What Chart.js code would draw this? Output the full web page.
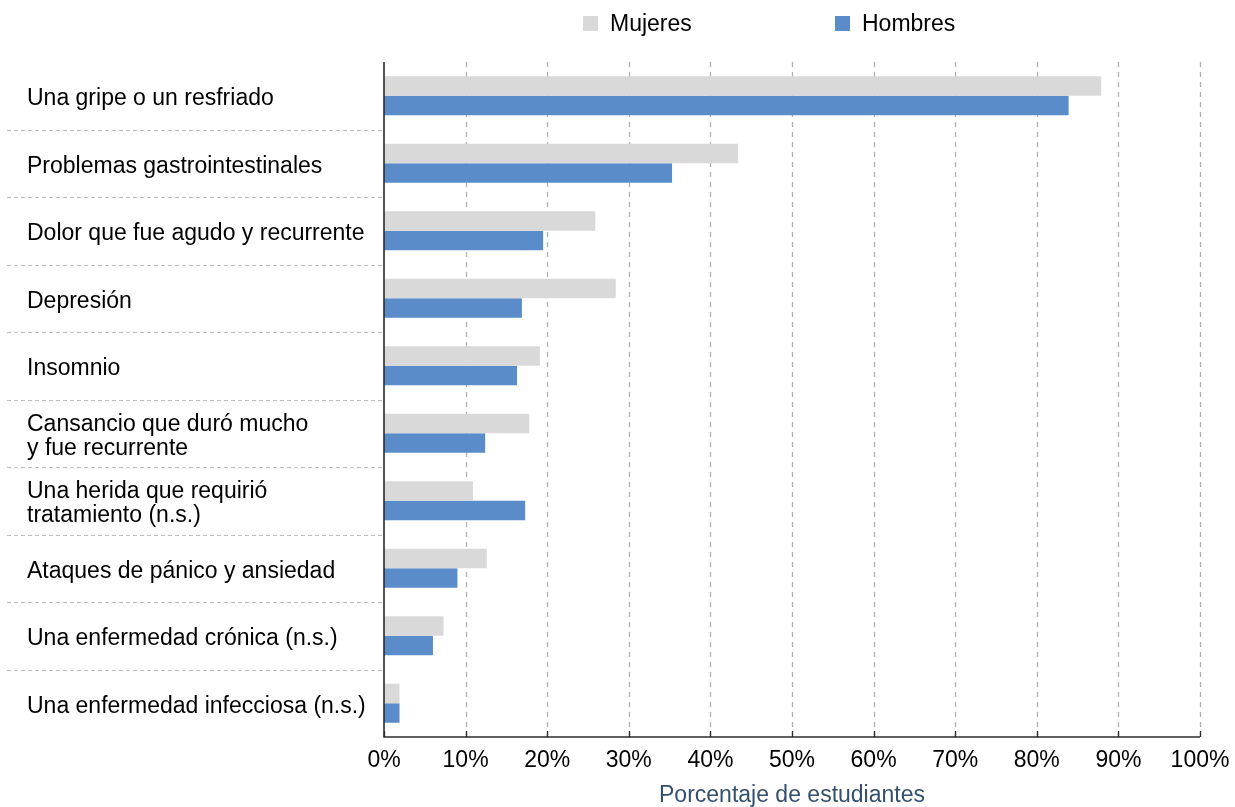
<!DOCTYPE html>
<html><head><meta charset="utf-8">
<script src="https://cdn.jsdelivr.net/npm/chart.js@4"></script>
<style>html,body{margin:0;padding:0;background:#fff}#wrap{width:1235px;height:807px;position:relative}</style>
</head><body><div id="wrap"><canvas id="c"></canvas></div>
<script>
const categories = [
  ["Una gripe o un resfriado"],
  ["Problemas gastrointestinales"],
  ["Dolor que fue agudo y recurrente"],
  ["Depresión"],
  ["Insomnio"],
  ["Cansancio que duró mucho", "y fue recurrente"],
  ["Una herida que requirió", "tratamiento (n.s.)"],
  ["Ataques de pánico y ansiedad"],
  ["Una enfermedad crónica (n.s.)"],
  ["Una enfermedad infecciosa (n.s.)"]
];
const mujeres = [87.9, 43.4, 25.9, 28.4, 19.1, 17.8, 10.9, 12.6, 7.3, 1.9];
const hombres = [83.9, 35.3, 19.5, 16.9, 16.3, 12.4, 17.3, 9.0, 6.0, 1.9];
const seriesNames = ["Mujeres", "Hombres"];
const xTicks = [0, 10, 20, 30, 40, 50, 60, 70, 80, 90, 100];
const axisTitle = "Porcentaje de estudiantes";

const FONT = "'Liberation Sans', Arial, Helvetica, sans-serif";
const FS = 23;

const decor = {
  id: 'decor',
  beforeDatasetsDraw(chart) {
    const {ctx, chartArea: a, scales: {x, y}} = chart;
    ctx.save();
    ctx.strokeStyle = '#b0b0b0';
    ctx.lineWidth = 1.3;
    ctx.setLineDash([5, 5]);
    xTicks.forEach(v => {
      if (v === 0) return;
      const px = Math.round(x.getPixelForValue(v)) + 0.5;
      ctx.beginPath(); ctx.moveTo(px, a.top); ctx.lineTo(px, a.bottom); ctx.stroke();
    });
    ctx.strokeStyle = '#bdbdbd';
    ctx.lineWidth = 1;
    ctx.setLineDash([4, 3]);
    for (let i = 0; i < categories.length - 1; i++) {
      const py = Math.round((y.getPixelForValue(i) + y.getPixelForValue(i + 1)) / 2) + 0.5;
      ctx.beginPath(); ctx.moveTo(7, py); ctx.lineTo(a.left, py); ctx.stroke();
    }
    ctx.restore();
  },
  afterDatasetsDraw(chart) {
    const {ctx, chartArea: a, scales: {x}} = chart;
    ctx.save();
    ctx.strokeStyle = '#2b2b2b';
    ctx.lineWidth = 1.6;
    ctx.setLineDash([]);
    ctx.beginPath();
    ctx.moveTo(a.left, a.top); ctx.lineTo(a.left, a.bottom); ctx.lineTo(a.right, a.bottom);
    ctx.stroke();
    ctx.lineWidth = 1.3;
    xTicks.forEach(v => {
      const px = Math.round(x.getPixelForValue(v)) + 0.5;
      ctx.beginPath(); ctx.moveTo(px, a.bottom); ctx.lineTo(px, a.bottom - 6); ctx.stroke();
    });
    const pos = [583, 835];
    ctx.font = FS + 'px ' + FONT;
    ctx.textBaseline = 'middle';
    ctx.textAlign = 'left';
    chart.data.datasets.forEach((ds, i) => {
      ctx.fillStyle = ds.backgroundColor;
      ctx.fillRect(pos[i], 16, 15, 15);
      ctx.fillStyle = '#000';
      ctx.fillText(ds.label, pos[i] + 27, 25);
    });
    ctx.restore();
  }
};

new Chart(document.getElementById('c'), {
  type: 'bar',
  data: {
    labels: categories,
    datasets: [
      {label: seriesNames[0], data: mujeres, backgroundColor: '#d9d9d9', categoryPercentage: 0.578, barPercentage: 1.0},
      {label: seriesNames[1], data: hombres, backgroundColor: '#5a8cc9', categoryPercentage: 0.578, barPercentage: 1.0}
    ]
  },
  options: {
    indexAxis: 'y',
    responsive: true,
    maintainAspectRatio: false,
    animation: false,
    layout: {padding: {left: 27, top: 62, right: 35, bottom: 0}},
    plugins: {legend: {display: false}, tooltip: {enabled: false}},
    scales: {
      x: {
        min: 0, max: 100,
        grid: {display: false, drawTicks: false},
        border: {display: false},
        ticks: {stepSize: 10, padding: 10, color: '#000', font: {family: FONT, size: FS},
          callback: v => v + '%', maxRotation: 0},
        title: {display: true, text: axisTitle, color: '#34506f', font: {family: FONT, size: FS}, padding: {top: 0, bottom: -2}},
        afterFit: s => { s.height = 70; s.paddingLeft = 0; s.paddingRight = 0; }
      },
      y: {
        grid: {display: false, drawTicks: false},
        border: {display: false},
        ticks: {crossAlign: 'far', labelOffset: 3, color: '#000', font: {family: FONT, size: FS, lineHeight: 1.05}, autoSkip: false},
        afterFit: s => { s.width = 357; }
      }
    }
  },
  plugins: [decor]
});
</script>
</body></html>
